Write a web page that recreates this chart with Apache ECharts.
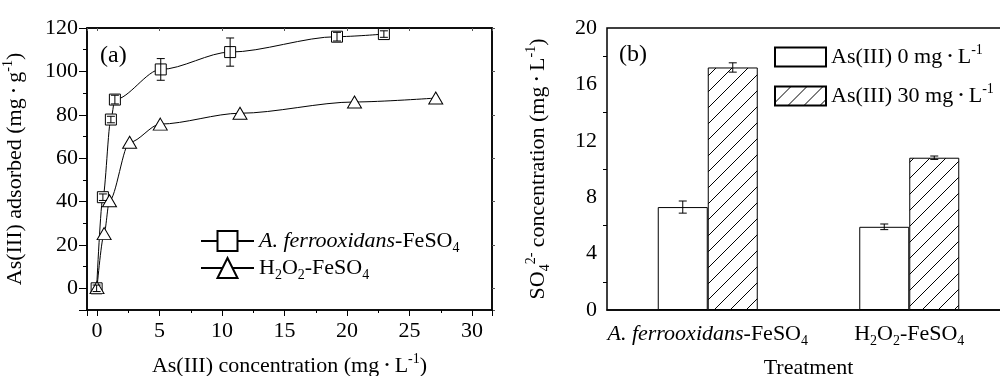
<!DOCTYPE html>
<html>
<head>
<meta charset="utf-8">
<script src="https://cdn.jsdelivr.net/npm/echarts@6/dist/echarts.min.js"></script>
<style>
  html, body { margin: 0; background: #fff; }
  #chart { width: 1000px; height: 376px; }
</style>
</head>
<body>
<div id="chart"></div>
<script>
// (a) adsorption isotherms
const concA = [-0.03, 0.47, 1.11, 1.43, 5.1, 10.65, 19.2, 22.95]
const adsA = [0, 42, 77.8, 87, 100.9, 108.9, 116, 117.2]
const errA = [1.5, 1.5, 1.5, 2, 5, 6.5, 2, 1.5]
const concH = [0, 0.57, 1.0, 2.61, 5.06, 11.44, 20.6, 27.1]
const adsH = [0.3, 25.2, 40.4, 67.3, 75.7, 80.7, 85.9, 87.7]

// (b) sulfate release
const treatments = ['A. ferrooxidans-FeSO4', 'H2O2-FeSO4']
const sulfate0 = [7.3, 5.9]
const sulfate0Err = [0.43, 0.2]
const sulfate30 = [17.2, 10.8]
const sulfate30Err = [0.33, 0.12]

const FONT = '"Liberation Serif", "Times New Roman", serif'

const richLabels = {
  'A. ferrooxidans-FeSO4': '{i|A. ferrooxidans}{t|-FeSO}{sub|4}',
  'H2O2-FeSO4': '{t|H}{sub|2}{t|O}{sub|2}{t|-FeSO}{sub|4}',
  'As(III) 0 mg · L-1': '{t|As(III) 0 mg }{dot|•}{t| L}{sup|-1}',
  'As(III) 30 mg · L-1': '{t|As(III) 30 mg }{dot|•}{t| L}{sup|-1}'
}

function makeRich(size) {
  const lh = size + 6
  return {
    t: { fontFamily: FONT, fontSize: size, lineHeight: lh, color: '#000' },
    i: { fontFamily: FONT, fontSize: size, lineHeight: lh, fontStyle: 'italic', color: '#000' },
    sub: { fontFamily: FONT, fontSize: Math.round(size * 0.62), lineHeight: lh, verticalAlign: 'bottom', color: '#000' },
    sup: { fontFamily: FONT, fontSize: Math.round(size * 0.62), lineHeight: lh, verticalAlign: 'top', color: '#000' },
    dot: { fontFamily: FONT, fontSize: Math.round(size * 0.6), lineHeight: lh, color: '#000' }
  }
}

function hatchPattern() {
  const s = 16
  const c = document.createElement('canvas')
  c.width = s
  c.height = s
  const g = c.getContext('2d')
  g.fillStyle = '#fff'
  g.fillRect(0, 0, s, s)
  g.strokeStyle = '#000'
  g.lineWidth = 1
  g.beginPath()
  g.moveTo(0, s); g.lineTo(s, 0)
  g.moveTo(-4, 4); g.lineTo(4, -4)
  g.moveTo(s - 4, s + 4); g.lineTo(s + 4, s - 4)
  g.stroke()
  return c
}

const lineStyle = { stroke: '#000', lineWidth: 1 }

function errorGroup(cx, yTop, yBot, w) {
  return {
    type: 'group',
    children: [
      { type: 'line', shape: { x1: cx, y1: yTop, x2: cx, y2: yBot }, style: lineStyle },
      { type: 'line', shape: { x1: cx - w, y1: yTop, x2: cx + w, y2: yTop }, style: lineStyle },
      { type: 'line', shape: { x1: cx - w, y1: yBot, x2: cx + w, y2: yBot }, style: lineStyle }
    ]
  }
}

function pointError(params, api) {
  const x = api.value(0), y = api.value(1), e = api.value(2)
  const top = api.coord([x, y + e])
  const bot = api.coord([x, y - e])
  return errorGroup(top[0], top[1], bot[1], 4)
}

function barError(side) {
  return function (params, api) {
    const c = api.value(0), v = api.value(1), e = api.value(2)
    const top = api.coord([c, v + e])
    const bot = api.coord([c, v - e])
    return errorGroup(top[0] + side * 25, top[1], bot[1], 4)
  }
}

const axisLineStyle = { color: '#000', width: 1.5 }
const labelStyle = { color: '#000', fontFamily: FONT, fontSize: 22 }

const chart = echarts.init(document.getElementById('chart'), null, { renderer: 'canvas' })

chart.setOption({
  animation: false,
  backgroundColor: '#fff',
  grid: [
    { left: 87, top: 28, width: 405, height: 282, outerBoundsMode: 'none', containLabel: false, show: true, borderColor: '#000', borderWidth: 1.5 },
    { left: 607, top: 28, width: 403, height: 282, outerBoundsMode: 'none', containLabel: false, show: true, borderColor: '#000', borderWidth: 1.5 }
  ],
  xAxis: [
    {
      type: 'value', gridIndex: 0, min: -0.8, max: 31.6, splitNumber: 6,
      name: '{t|As(III) concentration (mg }{dot|•}{t| L}{sup|-1}{t|)}',
      nameLocation: 'middle', nameGap: 42,
      nameTextStyle: { rich: makeRich(22) },
      axisLine: { onZero: false, lineStyle: axisLineStyle },
      axisTick: { length: 6, lineStyle: { color: '#000' } },
      minorTick: { show: true, splitNumber: 2, length: 3, lineStyle: { color: '#000' } },
      splitLine: { show: false },
      axisLabel: Object.assign({ margin: 10, formatter: v => (v % 5 === 0 ? String(v) : '') }, labelStyle)
    },
    {
      type: 'value', gridIndex: 0, position: 'top', min: -0.8, max: 31.6, splitNumber: 6,
      axisLine: { onZero: false, lineStyle: axisLineStyle },
      axisTick: { inside: true, length: 3, lineStyle: { color: '#555' } },
      splitLine: { show: false },
      axisLabel: { show: false }
    },
    {
      type: 'category', gridIndex: 1, data: treatments,
      name: '{t|Treatment}', nameLocation: 'middle', nameGap: 44,
      nameTextStyle: { rich: makeRich(22) },
      axisLine: { lineStyle: axisLineStyle },
      axisTick: { alignWithLabel: true, length: 6, lineStyle: { color: '#000' } },
      axisLabel: {
        interval: 0,
        margin: 10,
        formatter: v => richLabels[v],
        rich: makeRich(22)
      }
    }
  ],
  yAxis: [
    {
      type: 'value', gridIndex: 0, min: -10, max: 120, splitNumber: 6,
      name: '{t|As(III) adsorbed (mg }{dot|•}{t| g}{sup|-1}{t|)}',
      nameLocation: 'middle', nameGap: 58,
      nameTextStyle: { rich: makeRich(22) },
      axisLine: { onZero: false, lineStyle: axisLineStyle },
      axisTick: { length: 8, lineStyle: { color: '#000' } },
      minorTick: { show: true, splitNumber: 2, length: 4, lineStyle: { color: '#000' } },
      splitLine: { show: false },
      axisLabel: Object.assign({ margin: 9, formatter: v => (v % 20 === 0 ? String(v) : '') }, labelStyle)
    },
    {
      type: 'value', gridIndex: 0, position: 'right', min: -10, max: 120, splitNumber: 6,
      axisLine: { onZero: false, lineStyle: axisLineStyle },
      axisTick: { inside: false, length: 3, lineStyle: { color: '#555' } },
      splitLine: { show: false },
      axisLabel: { show: false }
    },
    {
      type: 'value', gridIndex: 1, min: 0, max: 20, interval: 4,
      name: '{t|SO}{sub|4}{sup|2-}{t| concentration (mg }{dot|•}{t| L}{sup|-1}{t|)}',
      nameLocation: 'middle', nameGap: 55,
      nameTextStyle: { rich: makeRich(22) },
      axisLine: { lineStyle: axisLineStyle },
      axisTick: { length: 8, lineStyle: { color: '#000' } },
      minorTick: { show: true, splitNumber: 2, length: 4, lineStyle: { color: '#000' } },
      splitLine: { show: false },
      axisLabel: Object.assign({ margin: 10 }, labelStyle)
    }
  ],
  legend: [
    {
      data: ['A. ferrooxidans-FeSO4', 'H2O2-FeSO4'],
      orient: 'vertical', left: 195, top: 225,
      itemWidth: 53, itemHeight: 25, itemGap: 2,
      formatter: n => richLabels[n],
      textStyle: { rich: makeRich(22) }
    },
    {
      data: ['As(III) 0 mg · L-1', 'As(III) 30 mg · L-1'],
      orient: 'vertical', left: 769, top: 38,
      itemWidth: 51, itemHeight: 19, itemGap: 14, icon: 'rect',
      formatter: n => richLabels[n],
      textStyle: { rich: makeRich(22) }
    }
  ],
  graphic: [
    { type: 'text', left: 100, top: 44, style: { text: '(a)', font: '24px ' + FONT, fill: '#000' } },
    { type: 'text', left: 619, top: 43, style: { text: '(b)', font: '24px ' + FONT, fill: '#000' } }
  ],
  series: [
    {
      name: 'A. ferrooxidans-FeSO4', type: 'line', xAxisIndex: 0, yAxisIndex: 0,
      data: concA.map((x, i) => [x, adsA[i]]),
      smooth: 0.3, smoothMonotone: 'x',
      symbol: 'rect', symbolSize: 11,
      lineStyle: { color: '#000', width: 1 },
      itemStyle: { color: '#fff', borderColor: '#000', borderWidth: 1 },
      z: 3
    },
    {
      name: 'H2O2-FeSO4', type: 'line', xAxisIndex: 0, yAxisIndex: 0,
      data: concH.map((x, i) => [x, adsH[i]]),
      smooth: 0.3, smoothMonotone: 'x',
      symbol: 'triangle', symbolSize: [14, 12],
      lineStyle: { color: '#000', width: 1 },
      itemStyle: { color: '#fff', borderColor: '#000', borderWidth: 1 },
      z: 3
    },
    {
      type: 'custom', xAxisIndex: 0, yAxisIndex: 0,
      data: concA.map((x, i) => [x, adsA[i], errA[i]]),
      renderItem: pointError, z: 5, silent: true
    },
    {
      name: 'As(III) 0 mg · L-1', type: 'bar', xAxisIndex: 2, yAxisIndex: 2,
      data: sulfate0, barWidth: 50, barGap: '0%',
      itemStyle: { color: '#fff', borderColor: '#000', borderWidth: 1 }
    },
    {
      name: 'As(III) 30 mg · L-1', type: 'bar', xAxisIndex: 2, yAxisIndex: 2,
      data: sulfate30, barWidth: 50, barGap: '0%',
      itemStyle: { color: { image: hatchPattern(), repeat: 'repeat' }, borderColor: '#000', borderWidth: 1 }
    },
    {
      type: 'custom', xAxisIndex: 2, yAxisIndex: 2,
      data: sulfate0.map((v, i) => [i, v, sulfate0Err[i]]),
      renderItem: barError(-1), z: 5, silent: true
    },
    {
      type: 'custom', xAxisIndex: 2, yAxisIndex: 2,
      data: sulfate30.map((v, i) => [i, v, sulfate30Err[i]]),
      renderItem: barError(1), z: 5, silent: true
    }
  ]
})
</script>
</body>
</html>
